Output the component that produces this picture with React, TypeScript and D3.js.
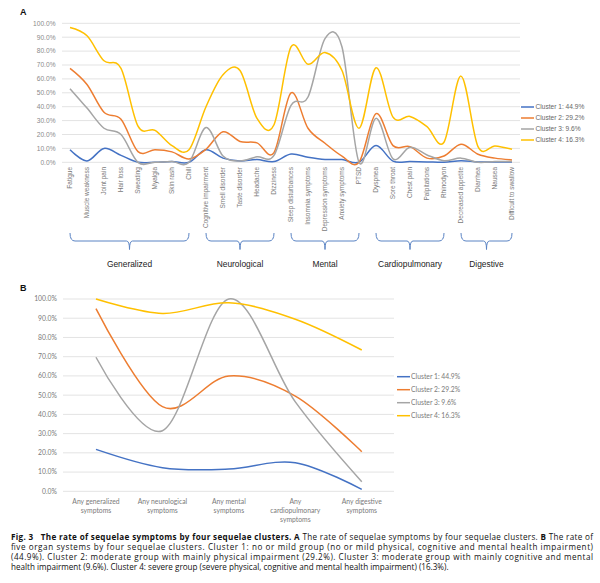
import React from 'react';
import * as d3 from 'd3';

// Panel A: symptoms grouped by organ system
const generalized = ['Fatigue', 'Muscle weakness', 'Joint pain', 'Hair loss', 'Sweating', 'Myalgia', 'Skin rash', 'Chill'];
const neurological = ['Cognitive impairment', 'Smell disorder', 'Taste disorder', 'Headache', 'Dizziness'];
const mental = ['Sleep disturbances', 'Insomnia symptoms', 'Depression symptoms', 'Anxiety symptoms', 'PTSD'];
const cardiopulmonary = ['Dyspnea', 'Sore throat', 'Chest pain', 'Palpitations', 'Rhinodyon'];
const digestive = ['Decreased appetite', 'Diarrhea', 'Nausea', 'Difficult to swallow'];

const groupNames = ['Generalized', 'Neurological', 'Mental', 'Cardiopulmonary', 'Digestive'];
const groupItems = [generalized, neurological, mental, cardiopulmonary, digestive];
const symptoms = groupItems.flat();

const clusterNames = ['Cluster 1: 44.9%', 'Cluster 2: 29.2%', 'Cluster 3: 9.6%', 'Cluster 4: 16.3%'];
const clusterColors = ['#4472C4', '#ED7D31', '#A5A5A5', '#FFC000'];

// percent values, panel A
const cluster1A = [9, 1, 10, 5, 0, 0, 0.5, 0, 9, 3, 1, 2, 0.5, 6, 3.6, 2, 2, 0, 12, 0.8, 0.5, 0.3, 0, 1.2, 0.3, 0.3, 0.3];
const cluster2A = [67.6, 56, 36, 31, 7.7, 9, 7.5, 2.4, 9.4, 22, 15, 14, 7, 50, 24.5, 13.7, 4.5, 0, 35, 12, 11.3, 3, 4.5, 13, 5.8, 3, 1.7];
const cluster3A = [53, 39, 24.5, 20, 0, 0, 0.5, 0, 25, 4.5, 1, 4, 5, 41, 47, 89, 83, 0, 31.6, 2.5, 10.8, 5.3, 1.2, 3, 0, 0.5, 0.5];
const cluster4A = [97, 91, 73, 67.6, 26, 23, 12, 9, 40, 63, 66, 31.6, 27, 83, 70.5, 79, 66, 24.5, 68, 32.5, 33, 25.7, 14.4, 62, 11.3, 11.8, 9.4];
const seriesA = [cluster1A, cluster2A, cluster3A, cluster4A];

// Panel B: organ systems
const systemsB = [
  ['Any generalized', 'symptoms'],
  ['Any neurological', 'symptoms'],
  ['Any mental', 'symptoms'],
  ['Any', 'cardiopulmonary', 'symptoms'],
  ['Any digestive', 'symptoms'],
];
const cluster1B = [21.8, 12.3, 11.6, 14.9, 1];
const cluster2B = [95, 44, 60, 49.5, 20.6];
const cluster3B = [69.7, 31.5, 100, 46.5, 5];
const cluster4B = [100, 92.5, 98, 89.5, 73.5];
const seriesB = [cluster1B, cluster2B, cluster3B, cluster4B];

const yTicks = d3.range(0, 101, 10);

const captionLines = [
  [
    { t: 'Fig. 3   The rate of sequelae symptoms by four sequelae clusters.', b: true },
    { t: ' ', b: false },
    { t: 'A', b: true },
    { t: ' The rate of sequelae symptoms by four sequelae clusters. ', b: false },
    { t: 'B', b: true },
    { t: ' The rate of', b: false },
  ],
  [{ t: 'five organ systems by four sequelae clusters. Cluster 1: no or mild group (no or mild physical, cognitive and mental health impairment)', b: false }],
  [{ t: '(44.9%). Cluster 2: moderate group with mainly physical impairment (29.2%). Cluster 3: moderate group with mainly cognitive and mental', b: false }],
  [{ t: 'health impairment (9.6%). Cluster 4: severe group (severe physical, cognitive and mental health impairment) (16.3%).', b: false }],
];

const fontA = '"Liberation Sans", Arial, sans-serif';
const fontB = 'Lato, "Open Sans", sans-serif';

export default function App() {
  // ---- panel A scales
  const xA = d3.scalePoint<string>().domain(symptoms).range([61.5, 520.5]).padding(0.5);
  const yA = d3.scaleLinear().domain([0, 100]).range([162.3, 23.3]);
  const lineA = d3
    .line<number>()
    .x((_, i) => xA(symptoms[i]) as number)
    .y((d) => yA(d))
    .curve(d3.curveCatmullRom.alpha(0));

  // ---- panel B scales
  const bKeys = systemsB.map((s) => s.join(' '));
  const xB = d3.scalePoint<string>().domain(bKeys).range([62.75, 395]).padding(0.5);
  const yB = d3.scaleLinear().domain([0, 100]).range([491.3, 299]);
  const lineB = d3
    .line<number>()
    .x((_, i) => xB(bKeys[i]) as number)
    .y((d) => yB(d))
    .curve(d3.curveCatmullRom.alpha(0));

  const braceTop = 233;
  const braceMid = 241;
  const braceTip = 249.5;

  return (
    <svg width={600} height={583} style={{ position: 'absolute', left: 0, top: 0, background: '#fff' }}>
      {/* ===== Panel A ===== */}
      <text x={20} y={15} fontFamily={fontA} fontWeight="bold" fontSize={9} fill="#111">A</text>
      <g>
        {yTicks.map((t) => (
          <g key={t}>
            <line x1={62} x2={520} y1={yA(t)} y2={yA(t)} stroke="#e3e3e3" strokeWidth={1} />
            <text x={55.5} y={yA(t) + 2.3} textAnchor="end" fontFamily={fontA} fontSize={6.6} fill="#8a8a8a">
              {t.toFixed(1)}%
            </text>
          </g>
        ))}
        {symptoms.map((s) => (
          <text
            key={s}
            transform={`translate(${(xA(s) as number) + 2.2},167) rotate(-90)`}
            textAnchor="end"
            fontFamily={fontA}
            fontSize={6.5}
            fill="#7a7a7a"
          >
            {s}
          </text>
        ))}
        {seriesA.map((vals, i) => (
          <path key={i} d={lineA(vals) || ''} fill="none" stroke={clusterColors[i]} strokeWidth={1.5} />
        ))}
        {groupItems.map((items, gi) => {
          const x0 = xA(items[0]) as number;
          const x1 = xA(items[items.length - 1]) as number;
          const cx = (x0 + x1) / 2;
          const d = `M${x0},${braceTop} Q${x0},${braceMid} ${x0 + 5},${braceMid} H${cx - 3} Q${cx},${braceMid} ${cx},${braceTip} Q${cx},${braceMid} ${cx + 3},${braceMid} H${x1 - 5} Q${x1},${braceMid} ${x1},${braceTop}`;
          return (
            <g key={gi}>
              <path d={d} fill="none" stroke="#5b84c4" strokeWidth={1} />
              <text x={cx} y={267} textAnchor="middle" fontFamily={fontA} fontSize={8.4} fill="#222">
                {groupNames[gi]}
              </text>
            </g>
          );
        })}
        {clusterNames.map((n, i) => (
          <g key={n} transform={`translate(521,${107 + i * 11})`}>
            <line x1={0} x2={13} y1={0} y2={0} stroke={clusterColors[i]} strokeWidth={1.5} />
            <text x={14.5} y={2.4} fontFamily={fontA} fontSize={6.6} fill="#666">
              {n}
            </text>
          </g>
        ))}
      </g>

      {/* ===== Panel B ===== */}
      <text x={20} y={291} fontFamily={fontA} fontWeight="bold" fontSize={9} fill="#111">B</text>
      <g>
        {yTicks.map((t) => (
          <g key={t}>
            <line x1={63} x2={394} y1={yB(t)} y2={yB(t)} stroke="#e3e3e3" strokeWidth={1} />
            <text x={57} y={yB(t) + 2.4} textAnchor="end" fontFamily={fontB} fontSize={6.8} fill="#7a7a7a">
              {t.toFixed(1)}%
            </text>
          </g>
        ))}
        {systemsB.map((lines, ci) => (
          <text key={ci} textAnchor="middle" fontFamily={fontB} fontSize={6.8} fill="#7a7a7a">
            {lines.map((l, li) => (
              <tspan key={li} x={xB(bKeys[ci]) as number} y={504 + li * 9.2}>
                {l}
              </tspan>
            ))}
          </text>
        ))}
        {seriesB.map((vals, i) => (
          <path key={i} d={lineB(vals) || ''} fill="none" stroke={clusterColors[i]} strokeWidth={1.5} />
        ))}
        {clusterNames.map((n, i) => (
          <g key={n} transform={`translate(397,${376.7 + i * 13})`}>
            <line x1={0} x2={13} y1={0} y2={0} stroke={clusterColors[i]} strokeWidth={1.5} />
            <text x={14} y={2.4} fontFamily={fontB} fontSize={6.8} fill="#7a7a7a">
              {n}
            </text>
          </g>
        ))}
      </g>

      {/* ===== Caption ===== */}
      {captionLines.map((parts, li) => (
        <text
          key={li}
          x={11}
          y={540 + li * 10}
          fontFamily='"Open Sans", "Noto Sans", sans-serif'
          fontSize={8.1}
          fill="#111"
          textLength={li < 3 ? 582 : undefined}
          lengthAdjust={li < 3 ? 'spacing' : undefined}
          xmlSpace="preserve"
        >
          {parts.map((p, pi) => (
            <tspan key={pi} fontWeight={p.b ? 'bold' : 'normal'}>
              {p.t}
            </tspan>
          ))}
        </text>
      ))}
    </svg>
  );
}
